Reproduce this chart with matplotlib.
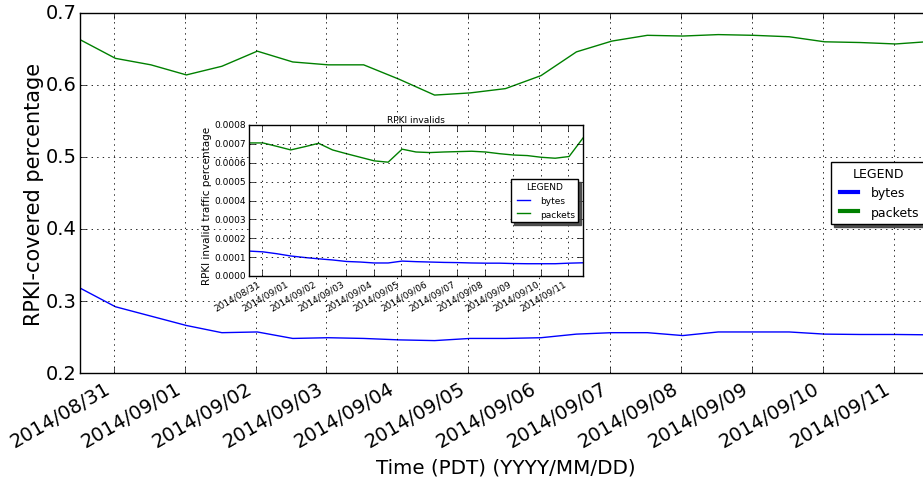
import matplotlib
matplotlib.use('Agg')
import matplotlib.pyplot as plt
import matplotlib.dates as mdates
from datetime import datetime, timedelta

plt.style.use('classic')

# ---- data -------------------------------------------------------------
start = datetime(2014, 8, 30, 12, 35)
n_points = 25
times = [start + timedelta(hours=12 * i) for i in range(n_points)]

covered_bytes = [0.318, 0.292, 0.279, 0.266, 0.256, 0.257, 0.248, 0.249, 0.248,
                 0.246, 0.245, 0.248, 0.248, 0.249, 0.254, 0.256, 0.256, 0.252,
                 0.257, 0.257, 0.257, 0.254, 0.2535, 0.2535, 0.253]
covered_packets = [0.663, 0.637, 0.628, 0.614, 0.626, 0.647, 0.632, 0.628, 0.628,
                   0.608, 0.586, 0.589, 0.595, 0.613, 0.646, 0.661, 0.669, 0.668,
                   0.670, 0.669, 0.667, 0.660, 0.659, 0.657, 0.6605]

invalid_bytes = [0.000132, 0.000128, 0.000118, 0.000106, 0.000098, 0.000091,
                 0.000085, 0.000077, 0.000074, 0.000069, 0.000069, 0.000079,
                 0.000076, 0.000074, 0.000072, 0.000071, 0.000069, 0.000068,
                 0.000068, 0.000066, 0.000065, 0.000065, 0.000065, 0.000068,
                 0.000070]
invalid_packets = [0.000705, 0.000705, 0.000687, 0.000668, 0.000685, 0.000703,
                   0.000668, 0.000648, 0.000629, 0.000610, 0.000603, 0.000672,
                   0.000657, 0.000654, 0.000657, 0.000659, 0.000661, 0.000657,
                   0.000648, 0.000641, 0.000638, 0.000629, 0.000624, 0.000633,
                   0.000731]

main_yticks = [0.2, 0.3, 0.4, 0.5, 0.6, 0.7]
inset_yticks = [0.0, 0.0001, 0.0002, 0.0003, 0.0004, 0.0005, 0.0006, 0.0007, 0.0008]

# ---- figure -----------------------------------------------------------
W, H = 923, 481
fig = plt.figure(figsize=(W / 100, H / 100), dpi=100, facecolor='white')
shadow_style = {'shade': 0.75, 'alpha': 0.9}

ax = fig.add_axes([80 / W, (H - 374) / H, 851 / W, 360 / H])
ax.plot(times, covered_bytes, color='b', lw=1, label='bytes')
ax.plot(times, covered_packets, color='g', lw=1, label='packets')
ax.set_xlim(times[0], times[-1])
ax.set_ylim(0.2, 0.7)
ax.set_yticks(main_yticks)
ax.xaxis.set_major_locator(mdates.DayLocator())
ax.xaxis.set_major_formatter(mdates.DateFormatter('%Y/%m/%d'))
ax.grid(True, color='k', linestyle=':', linewidth=0.6)
ax.tick_params(labelsize=14)
ax.tick_params(axis='y', pad=2.5)
plt.setp(ax.get_xticklabels(), rotation=30, ha='right')
ax.set_xlabel('Time (PDT) (YYYY/MM/DD)', fontsize=14.3)
ax.set_ylabel('RPKI-covered percentage', fontsize=15)
ax.yaxis.set_label_coords(-0.0423, 0.5)
leg = ax.legend(loc='center right', title='LEGEND', shadow=shadow_style,
                fontsize=9, fancybox=False)
leg.get_title().set_fontsize(9)
for ln in leg.get_lines():
    ln.set_linewidth(3)

# ---- inset -------------------------------------------------------------
ins = fig.add_axes([249 / W, (H - 277) / H, 334 / W, 151 / H])
ins.set_facecolor('white')
ins.plot(times, invalid_bytes, color='b', lw=1, label='bytes')
ins.plot(times, invalid_packets, color='g', lw=1, label='packets')
ins.set_xlim(times[0], times[-1])
ins.set_ylim(0, 0.0008)
ins.set_yticks(inset_yticks)
ins.set_yticklabels(['%.4f' % v for v in inset_yticks])
ins.xaxis.set_major_locator(mdates.DayLocator())
ins.xaxis.set_major_formatter(mdates.DateFormatter('%Y/%m/%d'))
ins.grid(True, color='k', linestyle=':', linewidth=0.6)
ins.tick_params(labelsize=6.5, pad=2)
plt.setp(ins.get_xticklabels(), rotation=30, ha='right')
ins.set_title('RPKI invalids', fontsize=6.5, pad=2)
ins.set_ylabel('RPKI invalid traffic percentage', fontsize=7.5)
ins.yaxis.set_label_coords(-0.112, 0.47)
leg2 = ins.legend(loc='center right', title='LEGEND', shadow=shadow_style,
                  fontsize=6.5, fancybox=False)
leg2.get_title().set_fontsize(6.5)

fig.savefig('out.png', dpi=100, facecolor='white')
